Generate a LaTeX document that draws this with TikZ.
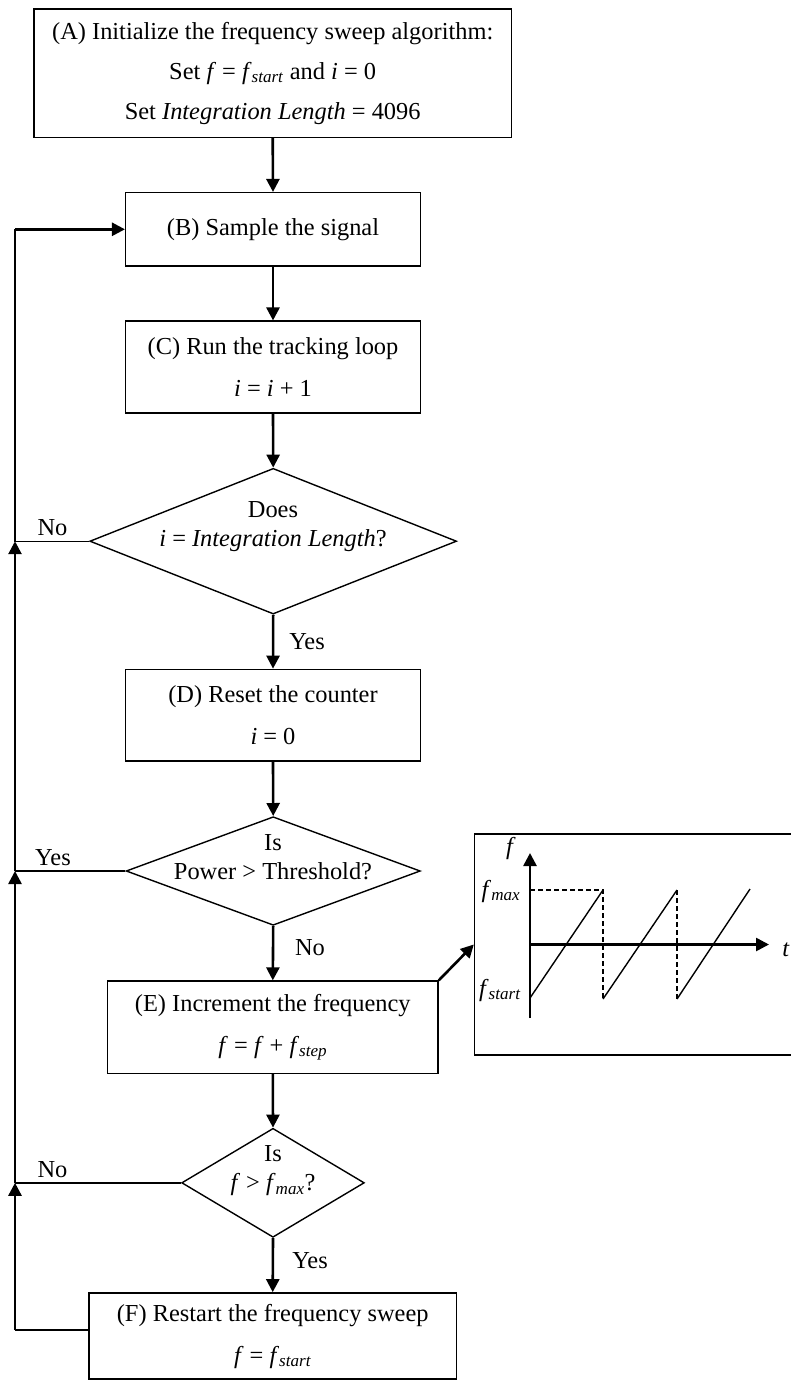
\documentclass[tikz,border=0pt]{standalone}
\usepackage{fontspec}
\setmainfont{Liberation Serif}
\usetikzlibrary{arrows.meta,shapes.geometric}
\newcommand{\fsub}[1]{\textit{f}\textsubscript{\textit{#1}}}
\begin{document}
\begin{tikzpicture}[x=1pt,y=-1pt,
  txt/.style={font=\fontsize{24.4}{42}\selectfont},
  boxnode/.style={draw,line width=1.4pt,align=center,inner sep=0pt,txt},
  dia/.style={draw,diamond,line width=1.4pt,inner sep=0pt},
  diatext/.style={align=center,inner sep=0pt,font=\fontsize{24.4}{29}\selectfont},
  lbl/.style={txt,inner sep=0pt},
  flow/.style={line width=2.6pt,-{Triangle[width=13pt,length=13pt]}},
  thinline/.style={line width=1.4pt},
  dashline/.style={line width=2.2pt,dash pattern=on 5pt off 3pt},
]
\useasboundingbox (0,0) rectangle (791,1380);

% boxes
\node[boxnode,font=\fontsize{24.4}{40}\selectfont,minimum width=477.8pt,minimum height=128.3pt] (A) at (272.7,73.2)
  {(A) Initialize the frequency sweep algorithm:\\ Set \textit{f} = \fsub{start} and \textit{i} = 0\\ Set \textit{Integration Length} = 4096};
\node[boxnode,minimum width=294.7pt,minimum height=73.3pt] (B) at (273,229.3) {(B) Sample the signal};
\node[boxnode,minimum width=294.7pt,minimum height=91.7pt] (C) at (273,367) {(C) Run the tracking loop\\ \textit{i} = \textit{i} + 1};
\node[dia,minimum width=366.8pt,minimum height=145.7pt] (d1) at (273.2,541.2) {};
\node[diatext] (d1t) at (273,527) {Does\\ \textit{i} = \textit{Integration Length}?};
\node[boxnode,minimum width=294.7pt,minimum height=91.7pt] (D) at (273,715.2) {(D) Reset the counter\\ \textit{i} = 0};
\node[dia,minimum width=294.2pt,minimum height=108.6pt] (d2) at (273.2,871) {};
\node[diatext] (d2t) at (273,857.5) {Is\\ Power > Threshold?};
\node[boxnode,minimum width=330.5pt,minimum height=92.3pt] (E) at (272.8,1027.2) {(E) Increment the frequency\\ \textit{f} = \textit{f} + \fsub{step}};
\node[dia,minimum width=182.7pt,minimum height=109pt] (d3) at (273,1182.8) {};
\node[diatext] (d3t) at (273,1171) {Is\\ \textit{f} > \fsub{max}?};
\node[boxnode,minimum width=367.8pt,minimum height=86.3pt] (F) at (272.7,1336) {(F) Restart the frequency sweep\\ \textit{f} = \fsub{start}};

% labels
\node[lbl] (n1) at (52.5,528) {No};
\node[lbl] (y1) at (307,641.7) {Yes};
\node[lbl] (y2) at (53,857.7) {Yes};
\node[lbl] (n2) at (310,948) {No};
\node[lbl] (n3) at (52.5,1169.3) {No};
\node[lbl] (y3) at (310,1260.7) {Yes};

% main flow
\draw[flow] (A.south) -- (B.north);
\draw[flow] (B.south) -- (C.north);
\draw[flow] (C.south) -- (d1.north);
\draw[flow] (d1.south) -- (D.north);
\draw[flow] (D.south) -- (d2.north);
\draw[flow] (d2.south) -- (E.north);
\draw[flow] (E.south) -- (d3.north);
\draw[flow] (d3.south) -- (F.north);

% left return line
\coordinate (jB) at (15,229.3);
\coordinate (j1) at (15,541.2);
\coordinate (j2) at (15,871);
\coordinate (j3) at (15,1182.8);
\coordinate (j4) at (15,1330);
\coordinate (Fw) at ([yshift=6pt]F.west);
\draw[thinline] (d1.west) -- (j1) -- (jB);
\draw[flow] (jB) -- (B.west);
\draw[thinline] (d2.west) -- (j2);
\draw[flow] (j2) -- (j1);
\draw[thinline] (d3.west) -- (j3);
\draw[flow] (j3) -- (j2);
\draw[thinline] (Fw) -- (j4);
\draw[flow] (j4) -- (j3);

% inset graph
\node[draw,line width=1.4pt,inner sep=0pt,minimum width=318.5pt,minimum height=221pt] (G) at (633.75,944.5) {};
\draw[flow] (E.north east) -- (G.west);
\coordinate (vb) at (530,1018);
\coordinate (vt) at (530,853);
\coordinate (O) at (530,944.5);
\coordinate (ht) at (769,944.5);
\draw[flow] (vb) -- (vt);
\draw[flow] (O) -- (ht);
\coordinate (m0) at (530,890);
\coordinate (p1) at (603,890);
\coordinate (q1) at (603,999);
\coordinate (p2) at (677,890);
\coordinate (q2) at (677,999);
\coordinate (s0) at (530,998);
\coordinate (p3) at (750,889);
\draw[dashline] (m0) -- (p1) -- (q1);
\draw[dashline] (p2) -- (q2);
\draw[thinline] (s0) -- (p1);
\draw[thinline] (q1) -- (p2);
\draw[thinline] (q2) -- (p3);
\node[lbl] (lf) at (511,848) {\textit{f}};
\node[lbl] (lfmax) at (501,891) {\fsub{max}};
\node[lbl] (lfstart) at (500,990) {\fsub{start}};
\node[lbl] (lt) at (786,950) {\textit{t}};
\end{tikzpicture}
\end{document}
